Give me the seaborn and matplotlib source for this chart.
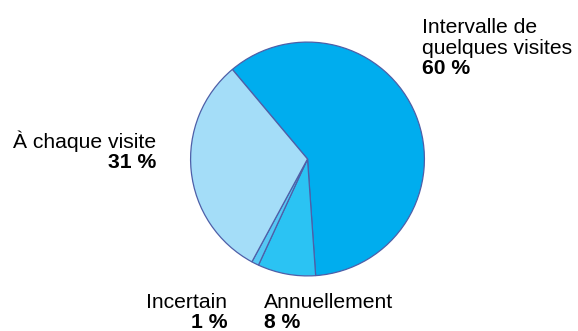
import matplotlib.pyplot as plt
import seaborn as sns

# slices, clockwise from the upper-left boundary
labels = ["Intervalle de\nquelques visites", "Annuellement", "Incertain", "À chaque visite"]
values = [60, 8, 1, 31]
colors = ["#00adee", "#2bc3f3", "#55c8f4", "#a4ddf8"]
edge = "#4e5fa8"

sns.set_theme(style="white")
plt.rcParams["font.family"] = ["Liberation Sans", "DejaVu Sans"]

W, H = 578, 331
fig = plt.figure(figsize=(W / 100, H / 100), dpi=100)

# pie axes: centre (307.5, 159) px from top, radius 117.5 px
cx, cy, r = 307.5, 159, 117.5
ax = fig.add_axes([(cx - r) / W, (H - cy - r) / H, 2 * r / W, 2 * r / H])
ax.pie(values, colors=colors, startangle=130, counterclock=False,
       wedgeprops=dict(edgecolor=edge, linewidth=0.9))
ax.set_xlim(-1.005, 1.005)
ax.set_ylim(-1.005, 1.005)
ax.set_aspect("equal")
ax.axis("off")


def put(x, y, s, bold=False, ha="left"):
    fig.text(x / W, 1 - y / H, s, fontsize=15.2, ha=ha, va="baseline",
             color="black", fontweight="bold" if bold else "normal")


# label anchor (x px, first baseline px, alignment)
anchors = [(421.5, 33, "left"), (263.5, 307.5, "left"),
           (227.5, 307.5, "right"), (156.5, 148, "right")]
step = 20.5
for lab, val, (x, y, ha) in zip(labels, values, anchors):
    lines = lab.split("\n")
    for i, ln in enumerate(lines):
        put(x, y + i * step, ln, ha=ha)
    put(x, y + len(lines) * step, f"{val} %", bold=True, ha=ha)

fig.savefig("out.png", dpi=100)
